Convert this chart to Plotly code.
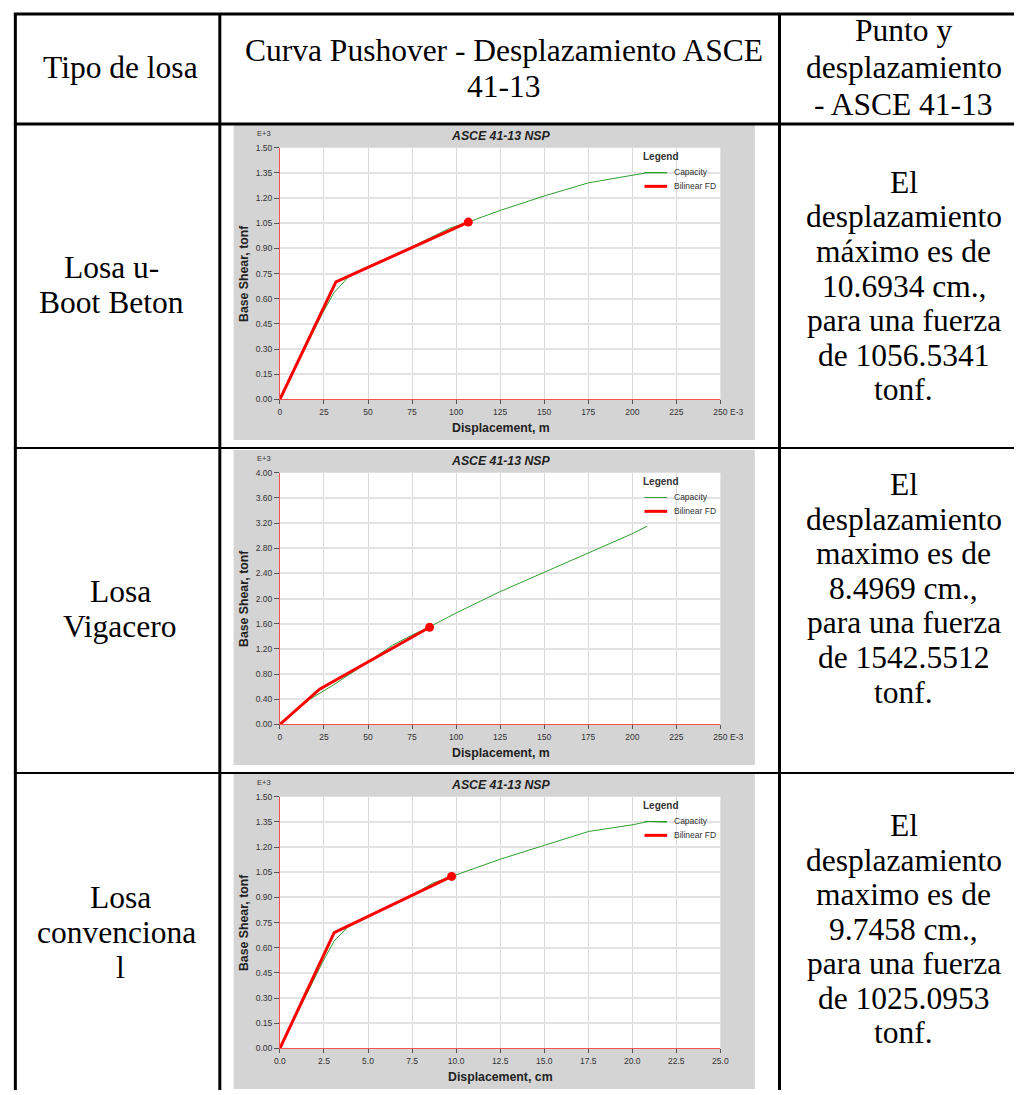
import plotly.graph_objects as go

W, H = 1023, 1095

# ---------------- data ----------------
# Chart 1: Losa u-Boot Beton (x: E-3 m, y: E+3 tonf)
cap1_x = [0, 24, 30.8, 39.5, 42.4, 75, 96.3, 107, 125, 150.3, 175.3, 200.4, 208, 219.7]
cap1_y = [0, 0.51, 0.638, 0.736, 0.756, 0.909, 1.02, 1.057, 1.126, 1.213, 1.291, 1.337, 1.35, 1.35]
bil1_x = [0, 31.8, 106.934]
bil1_y = [0, 0.70, 1.0565341]

# Chart 2: Losa Vigacero (x: E-3 m, y: E+3 tonf)
cap2_x = [0, 17, 30, 40, 50, 64, 75, 85, 100, 125, 150, 175, 200, 208.5]
cap2_y = [0, 0.40, 0.62, 0.80, 0.99, 1.26, 1.42, 1.55, 1.77, 2.11, 2.415, 2.73, 3.03, 3.15]
bil2_x = [0, 22.5, 84.969]
bil2_y = [0, 0.56, 1.5425512]

# Chart 3: Losa convencional (x: cm, y: E+3 tonf)
cap3_x = [0, 2.4, 3.08, 3.85, 7.51, 8.67, 9.73, 12.52, 15.03, 17.53, 20.04, 20.9, 21.96]
cap3_y = [0, 0.51, 0.64, 0.723, 0.912, 0.985, 1.024, 1.128, 1.211, 1.293, 1.333, 1.352, 1.348]
bil3_x = [0, 3.08, 9.7458]
bil3_y = [0, 0.69, 1.0250953]

x_ticks_m = [0, 25, 50, 75, 100, 125, 150, 175, 200, 225, 250]
x_ticks_cm = [0, 2.5, 5.0, 7.5, 10.0, 12.5, 15.0, 17.5, 20.0, 22.5, 25.0]
y_ticks_15 = [0, 0.15, 0.30, 0.45, 0.60, 0.75, 0.90, 1.05, 1.20, 1.35, 1.50]
y_ticks_40 = [0, 0.40, 0.80, 1.20, 1.60, 2.00, 2.40, 2.80, 3.20, 3.60, 4.00]

header_col1 = ["Tipo de losa"]
header_col2 = ["Curva Pushover - Desplazamiento ASCE", "41-13"]
header_col3 = ["Punto y", "desplazamiento", "- ASCE 41-13"]
row_names = [["Losa u-", "Boot Beton"], ["Losa", "Vigacero"], ["Losa", "convenciona", "l"]]
row_texts = [
    ["El", "desplazamiento", "máximo es de", "10.6934 cm.,", "para una fuerza", "de 1056.5341", "tonf."],
    ["El", "desplazamiento", "maximo es de", "8.4969 cm.,", "para una fuerza", "de 1542.5512", "tonf."],
    ["El", "desplazamiento", "maximo es de", "9.7458 cm.,", "para una fuerza", "de 1025.0953", "tonf."],
]

# ---------------- layout helpers ----------------
def fx(px):
    return px / W

def fy(py):
    return 1 - py / H

SERIF = "Liberation Serif, Times New Roman, serif"
SANS = "Liberation Sans, Arial, sans-serif"
GREEN = "#2ca02c"
RED = "#ff0000"
AXRED = "#ff5050"
GRID = "#d9d9d9"
HGRID = "#e3e3e3"
GRAY_BG = "#d4d4d4"
TXT = "#333333"

fig = go.Figure()
shapes = []
annotations = []

def ann(text, x, y, size, family=SERIF, color="black", xanchor="center", yanchor="middle", **kw):
    annotations.append(dict(text=text, x=fx(x), y=fy(y), xref="paper", yref="paper",
                            showarrow=False, xanchor=xanchor, yanchor=yanchor,
                            font=dict(family=family, size=size, color=color), **kw))

charts = [
    dict(cx=cap1_x, cy=cap1_y, bx=bil1_x, by=bil1_y, xt=x_ticks_m, yt=y_ticks_15,
         xr=[0, 250], yr=[0, 1.5], xfmt="d", yfmt=".2f", xtitle="Displacement, m", e3=True, g0=121),
    dict(cx=cap2_x, cy=cap2_y, bx=bil2_x, by=bil2_y, xt=x_ticks_m, yt=y_ticks_40,
         xr=[0, 250], yr=[0, 4.0], xfmt="d", yfmt=".2f", xtitle="Displacement, m", e3=True, g0=449),
    dict(cx=cap3_x, cy=cap3_y, bx=bil3_x, by=bil3_y, xt=x_ticks_cm, yt=y_ticks_15,
         xr=[0, 25], yr=[0, 1.5], xfmt=".1f", yfmt=".2f", xtitle="Displacement, cm", e3=False, g0=776),
]

PL, PR = 278, 725
for i, c in enumerate(charts):
    n = "" if i == 0 else str(i + 1)
    g0 = c["g0"]
    top, bot = g0 + 23, g0 + 277
    # gray panel
    shapes.append(dict(type="rect", xref="paper", yref="paper", x0=fx(231), x1=fx(760),
                       y0=fy(min(g0 + 318, H)), y1=fy(g0), fillcolor=GRAY_BG, line=dict(width=0),
                       layer="below"))
    # white plot area
    shapes.append(dict(type="rect", xref="paper", yref="paper", x0=fx(PL), x1=fx(PR),
                       y0=fy(bot), y1=fy(top), fillcolor="white", line=dict(width=0), layer="below"))
    xa = dict(domain=[fx(PL), fx(PR)], range=c["xr"], tickvals=c["xt"], tickformat=c["xfmt"],
              showgrid=True, gridcolor=GRID, gridwidth=1, zeroline=False,
              showline=True, linecolor=AXRED, linewidth=1,
              ticks="outside", ticklen=4, tickcolor="#555", tickwidth=1,
              tickfont=dict(family=SANS, size=8.5, color=TXT), anchor="y" + n, fixedrange=True)
    ya = dict(domain=[fy(bot), fy(top)], range=c["yr"], tickvals=c["yt"], tickformat=c["yfmt"],
              showgrid=True, gridcolor=HGRID, gridwidth=1.6, zeroline=False,
              showline=True, linecolor=AXRED, linewidth=1,
              ticks="outside", ticklen=5, tickcolor="#555", tickwidth=1,
              tickfont=dict(family=SANS, size=8.5, color=TXT), anchor="x" + n, fixedrange=True)
    fig.update_layout(**{"xaxis" + n: xa, "yaxis" + n: ya})

    fig.add_trace(go.Scatter(x=c["cx"], y=c["cy"], mode="lines", line=dict(color=GREEN, width=1),
                             xaxis="x" + n, yaxis="y" + n, showlegend=False, name="Capacity"))
    fig.add_trace(go.Scatter(x=c["bx"], y=c["by"], mode="lines", line=dict(color=RED, width=3),
                             xaxis="x" + n, yaxis="y" + n, showlegend=False, name="Bilinear FD"))
    fig.add_trace(go.Scatter(x=[c["bx"][-1]], y=[c["by"][-1]], mode="markers",
                             marker=dict(color=RED, size=9), cliponaxis=False,
                             xaxis="x" + n, yaxis="y" + n, showlegend=False))

    # chart texts
    ann("<b><i>ASCE 41-13 NSP</i></b>", 502, g0 + 11, 12.3, family=SANS, color="#222")
    ann("E+3", 262, g0 + 9, 7.5, family=SANS, color=TXT)
    if c["e3"]:
        ann("E-3", 733, bot + 13, 8.5, family=SANS, color=TXT, xanchor="left")
    ann("<b>" + c["xtitle"] + "</b>", 502, bot + 29, 12.3, family=SANS, color="#222")
    ann("<b>Base Shear, tonf</b>", 241, (top + bot) / 2, 12.3, family=SANS, color="#222", textangle=-90)
    # legend
    ann("<b>Legend</b>", 665, g0 + 32, 10, family=SANS, color="#333")
    ann("Capacity", 676, g0 + 48, 8.5, family=SANS, color="#333", xanchor="left")
    ann("Bilinear FD", 676, g0 + 62, 8.5, family=SANS, color="#333", xanchor="left")
    shapes.append(dict(type="line", xref="paper", yref="paper", x0=fx(648), x1=fx(671),
                       y0=fy(g0 + 48), y1=fy(g0 + 48), line=dict(color=GREEN, width=1)))
    shapes.append(dict(type="line", xref="paper", yref="paper", x0=fx(648), x1=fx(671),
                       y0=fy(g0 + 62), y1=fy(g0 + 62), line=dict(color=RED, width=3)))

# table lines
for y, w in [(9, 3), (120, 3), (447, 2), (775, 2)]:
    shapes.append(dict(type="line", xref="paper", yref="paper", x0=fx(8), x1=fx(1023),
                       y0=fy(y), y1=fy(y), line=dict(color="black", width=w)))
for x in [9.5, 217, 785]:
    shapes.append(dict(type="line", xref="paper", yref="paper", x0=fx(x), x1=fx(x),
                       y0=fy(8), y1=fy(1095), line=dict(color="black", width=3)))

# table texts (DY compensates for the glyph box centre)
FS = 31.5
DY = -4
ann(header_col1[0], 116, 67 + DY, FS)
for k, t in enumerate(header_col2):
    ann(t, 505, 50 + 36 * k + DY, FS)
for k, t in enumerate(header_col3):
    ann(t, 911, 30 + 37 * k + DY, FS)

name_y = [[269, 304], [596, 631], [905, 940, 975]]
name_x = [[107, 107], [116, 116], [116, 112, 116]]
for r in range(3):
    for k, t in enumerate(row_names[r]):
        ann(t, name_x[r][k], name_y[r][k] + DY, FS)

text_y0 = [183, 488, 832]
for r in range(3):
    for k, t in enumerate(row_texts[r]):
        ann(t, 911, text_y0[r] + 34.9 * k + DY, FS)

fig.update_layout(width=W, height=H, margin=dict(l=0, r=0, t=0, b=0),
                  paper_bgcolor="white", plot_bgcolor="rgba(0,0,0,0)",
                  shapes=shapes, annotations=annotations, showlegend=False)

fig.write_html("out.html", config={"displayModeBar": False})
